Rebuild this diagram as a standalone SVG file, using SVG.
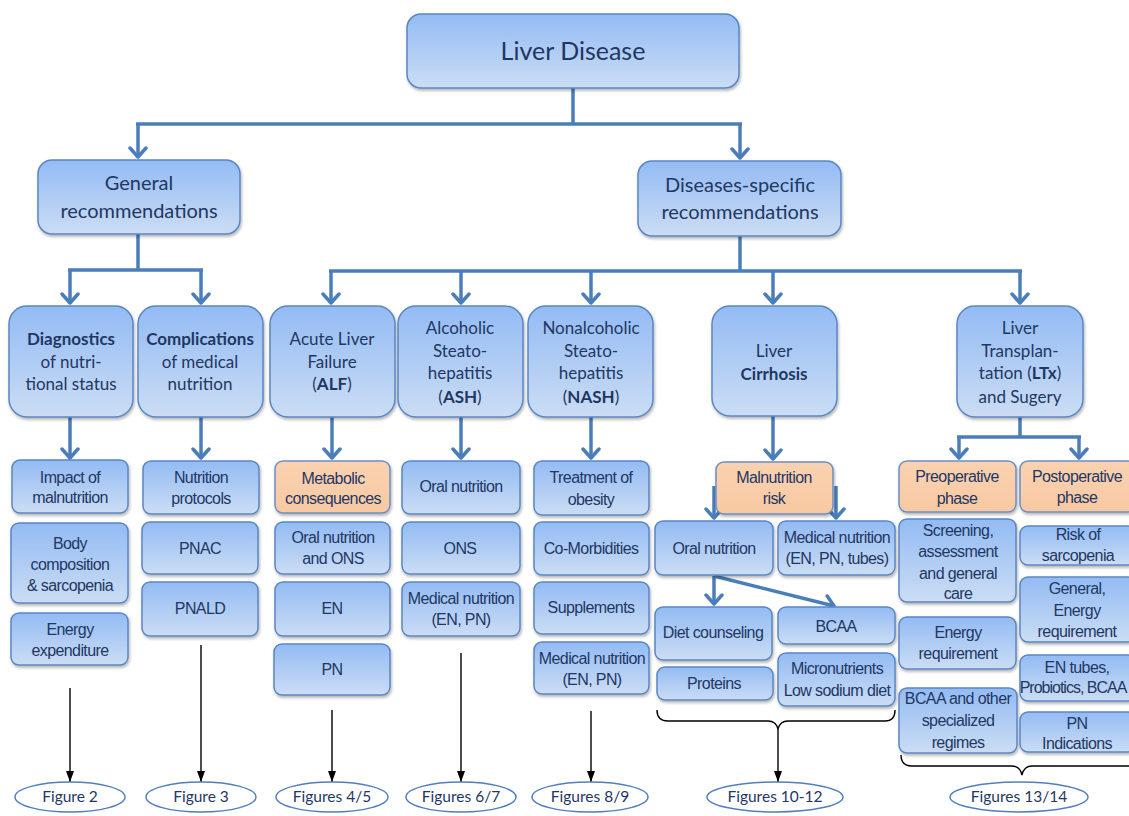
<svg xmlns="http://www.w3.org/2000/svg" width="1129" height="816" viewBox="0 0 1129 816">
<defs>
<linearGradient id="gb" x1="0" y1="0" x2="0" y2="1">
<stop offset="0" stop-color="#93bbf4"/>
<stop offset="1" stop-color="#cbddf4"/>
</linearGradient>
<linearGradient id="go" x1="0" y1="0" x2="0" y2="1">
<stop offset="0" stop-color="#fad2b1"/>
<stop offset="1" stop-color="#f8c9a2"/>
</linearGradient>
<filter id="sh" x="-10%" y="-10%" width="130%" height="140%">
<feDropShadow dx="1" dy="2" stdDeviation="1.5" flood-color="#000" flood-opacity="0.3"/>
</filter>
<marker id="bv" viewBox="-12 -10 14 20" refX="0" refY="0" markerWidth="14" markerHeight="20" markerUnits="userSpaceOnUse" orient="auto">
<path d="M-9,-8 L0,0 L-9,8" fill="none" stroke="#4a7ebb" stroke-width="3.5" stroke-linecap="round" stroke-linejoin="round"/>
</marker>
<marker id="bk" viewBox="-11 -5 12 10" refX="0" refY="0" markerWidth="12" markerHeight="10" markerUnits="userSpaceOnUse" orient="auto">
<path d="M-11,-4 L0,0 L-11,4 z" fill="#000"/>
</marker>
<style>
.b{fill:url(#gb);stroke:#5b86c3;stroke-width:1.5;filter:url(#sh)}
.o{fill:url(#go);stroke:#6b8fc4;stroke-width:1.5;filter:url(#sh)}
.t1{font-family:Lato,"Open Sans",sans-serif;fill:#1f3763;text-anchor:middle}
.t4{font-family:"Liberation Sans",Arial,sans-serif;font-size:16px;letter-spacing:-0.6px;fill:#1f3763;text-anchor:middle}
.tf{font-family:Lato,"Open Sans",sans-serif;font-size:15.5px;fill:#1f3763;text-anchor:middle}
.e{fill:#fff;stroke:#4f7fbd;stroke-width:1.5}
.c{fill:none;stroke:#4a7ebb;stroke-width:3.5}
.k{fill:none;stroke:#000;stroke-width:1.4}
</style>
</defs>

<g id="connectors">
<path class="c" d="M573,88 V124 M136,124 H742 M138,234 V270 M68,270 H203 M740,236 V271 M329,271 H1022 M1020,417 V437 M957,437 H1081"/>
<path class="c" d="M138,124 V157" marker-end="url(#bv)"/>
<path class="c" d="M740,124 V158" marker-end="url(#bv)"/>
<path class="c" d="M70,270 V303" marker-end="url(#bv)"/>
<path class="c" d="M201,270 V303" marker-end="url(#bv)"/>
<path class="c" d="M331,271 V303" marker-end="url(#bv)"/>
<path class="c" d="M461,271 V303" marker-end="url(#bv)"/>
<path class="c" d="M591,271 V303" marker-end="url(#bv)"/>
<path class="c" d="M773,271 V303" marker-end="url(#bv)"/>
<path class="c" d="M1020,271 V303" marker-end="url(#bv)"/>
<path class="c" d="M70,417 V458" marker-end="url(#bv)"/>
<path class="c" d="M201,417 V458" marker-end="url(#bv)"/>
<path class="c" d="M332,417 V458" marker-end="url(#bv)"/>
<path class="c" d="M461,417 V458" marker-end="url(#bv)"/>
<path class="c" d="M591,417 V458" marker-end="url(#bv)"/>
<path class="c" d="M773,416 V459" marker-end="url(#bv)"/>
<path class="c" d="M959,437 V458" marker-end="url(#bv)"/>
<path class="c" d="M1079,437 V458" marker-end="url(#bv)"/>
<path class="c" d="M714,486 V518" marker-end="url(#bv)"/>
<path class="c" d="M836,486 V518" marker-end="url(#bv)"/>
<path class="c" d="M714,576 V604" marker-end="url(#bv)"/>
<path class="c" d="M714,576 L834,606" marker-end="url(#bv)"/>
<path class="k" d="M70,688 V782" marker-end="url(#bk)"/>
<path class="k" d="M201,645 V782" marker-end="url(#bk)"/>
<path class="k" d="M332,710 V782" marker-end="url(#bk)"/>
<path class="k" d="M461,653 V782" marker-end="url(#bk)"/>
<path class="k" d="M591,711 V782" marker-end="url(#bk)"/>
<path class="k" d="M778,729 V782" marker-end="url(#bk)"/>
<path class="k" d="M657,710 Q657,721 668,721 H768 Q776,721 778,729 Q780,721 788,721 H885 Q895,721 895,710"/>
<path class="k" d="M901,755 Q901,766 912,766 H1012 Q1020,766 1022,775 Q1024,766 1032,766 H1131"/>
</g>

<g id="n-liver-disease"><rect class="b" x="407" y="14" width="332" height="74" rx="14"/><text class="t1" x="573" y="60" font-size="25">Liver Disease</text></g>
<g id="n-general"><rect class="b" x="38" y="160" width="202" height="74" rx="14"/><text class="t1" font-size="20"><tspan x="139" y="190">General</tspan><tspan x="139" y="218">recommendations</tspan></text></g>
<g id="n-specific"><rect class="b" x="638" y="161" width="203" height="75" rx="14"/><text class="t1" font-size="20"><tspan x="740" y="192">Diseases-specific</tspan><tspan x="740" y="219">recommendations</tspan></text></g>

<g id="n-diagnostics"><rect class="b" x="9" y="306" width="124" height="111" rx="18"/><text class="t1" font-size="17"><tspan x="71" y="345" font-weight="bold">Diagnostics</tspan><tspan x="71" y="368">of nutri-</tspan><tspan x="71" y="390">tional status</tspan></text></g>
<g id="n-complications"><rect class="b" x="138" y="306" width="125" height="111" rx="18"/><text class="t1" font-size="17"><tspan x="200" y="345" font-weight="bold">Complications</tspan><tspan x="200" y="368">of medical</tspan><tspan x="200" y="390">nutrition</tspan></text></g>
<g id="n-alf"><rect class="b" x="270" y="306" width="125" height="111" rx="18"/><text class="t1" font-size="17"><tspan x="332" y="345">Acute Liver</tspan><tspan x="332" y="368">Failure</tspan><tspan x="332" y="390">(<tspan font-weight="bold">ALF</tspan>)</tspan></text></g>
<g id="n-ash"><rect class="b" x="398" y="306" width="125" height="111" rx="18"/><text class="t1" font-size="17"><tspan x="460" y="334">Alcoholic</tspan><tspan x="460" y="357">Steato-</tspan><tspan x="460" y="379">hepatitis</tspan><tspan x="460" y="403">(<tspan font-weight="bold">ASH</tspan>)</tspan></text></g>
<g id="n-nash"><rect class="b" x="528" y="306" width="125" height="111" rx="18"/><text class="t1" font-size="17"><tspan x="591" y="334">Nonalcoholic</tspan><tspan x="591" y="357">Steato-</tspan><tspan x="591" y="379">hepatitis</tspan><tspan x="591" y="403">(<tspan font-weight="bold">NASH</tspan>)</tspan></text></g>
<g id="n-cirrhosis"><rect class="b" x="712" y="306" width="125" height="110" rx="18"/><text class="t1" font-size="17"><tspan x="774" y="357">Liver</tspan><tspan x="774" y="380" font-weight="bold">Cirrhosis</tspan></text></g>
<g id="n-ltx"><rect class="b" x="957" y="306" width="126" height="111" rx="18"/><text class="t1" font-size="17"><tspan x="1020" y="334">Liver</tspan><tspan x="1020" y="357">Transplan-</tspan><tspan x="1020" y="379">tation (<tspan font-weight="bold">LTx</tspan>)</tspan><tspan x="1020" y="403">and Sugery</tspan></text></g>

<g id="n-impact"><rect class="b" x="12" y="460" width="116" height="53" rx="8"/><text class="t4"><tspan x="70" y="483">Impact of</tspan><tspan x="70" y="503">malnutrition</tspan></text></g>
<g id="n-body"><rect class="b" x="11" y="523" width="117" height="80" rx="8"/><text class="t4"><tspan x="70" y="549">Body</tspan><tspan x="70" y="570">composition</tspan><tspan x="70" y="591">&amp; sarcopenia</tspan></text></g>
<g id="n-energy-exp"><rect class="b" x="11" y="613" width="117" height="52" rx="8"/><text class="t4"><tspan x="70" y="635">Energy</tspan><tspan x="70" y="656">expenditure</tspan></text></g>

<g id="n-protocols"><rect class="b" x="143" y="461" width="116" height="53" rx="8"/><text class="t4"><tspan x="201" y="483">Nutrition</tspan><tspan x="201" y="504">protocols</tspan></text></g>
<g id="n-pnac"><rect class="b" x="142" y="522" width="116" height="52" rx="8"/><text class="t4" x="200" y="554">PNAC</text></g>
<g id="n-pnald"><rect class="b" x="142" y="582" width="116" height="54" rx="8"/><text class="t4" x="200" y="614">PNALD</text></g>

<g id="n-metabolic"><rect class="o" x="275" y="461" width="115" height="52" rx="8"/><text class="t4"><tspan x="333" y="484">Metabolic</tspan><tspan x="333" y="504">consequences</tspan></text></g>
<g id="n-alf-oral"><rect class="b" x="275" y="522" width="115" height="52" rx="8"/><text class="t4"><tspan x="333" y="543">Oral nutrition</tspan><tspan x="333" y="564">and ONS</tspan></text></g>
<g id="n-alf-en"><rect class="b" x="275" y="582" width="115" height="54" rx="8"/><text class="t4" x="332" y="614">EN</text></g>
<g id="n-alf-pn"><rect class="b" x="274" y="644" width="116" height="51" rx="8"/><text class="t4" x="332" y="675">PN</text></g>

<g id="n-ash-oral"><rect class="b" x="402" y="461" width="118" height="53" rx="8"/><text class="t4" x="461" y="492">Oral nutrition</text></g>
<g id="n-ash-ons"><rect class="b" x="402" y="522" width="118" height="52" rx="8"/><text class="t4" x="460" y="554">ONS</text></g>
<g id="n-ash-med"><rect class="b" x="402" y="582" width="118" height="54" rx="8"/><text class="t4"><tspan x="461" y="604">Medical nutrition</tspan><tspan x="461" y="625">(EN, PN)</tspan></text></g>

<g id="n-obesity"><rect class="b" x="534" y="461" width="115" height="54" rx="8"/><text class="t4"><tspan x="591" y="483">Treatment of</tspan><tspan x="591" y="505">obesity</tspan></text></g>
<g id="n-comorb"><rect class="b" x="534" y="522" width="115" height="53" rx="8"/><text class="t4" x="591" y="554">Co-Morbidities</text></g>
<g id="n-suppl"><rect class="b" x="534" y="582" width="115" height="52" rx="8"/><text class="t4" x="591" y="613">Supplements</text></g>
<g id="n-nash-med"><rect class="b" x="534" y="642" width="115" height="52" rx="8"/><text class="t4"><tspan x="592" y="664">Medical nutrition</tspan><tspan x="592" y="685">(EN, PN)</tspan></text></g>

<g id="n-malnutrition-risk"><rect class="o" x="716" y="462" width="117" height="52" rx="8"/><text class="t4"><tspan x="774" y="483">Malnutrition</tspan><tspan x="774" y="504">risk</tspan></text></g>
<g id="n-cir-oral"><rect class="b" x="655" y="521" width="118" height="54" rx="8"/><text class="t4" x="714" y="554">Oral nutrition</text></g>
<g id="n-cir-med"><rect class="b" x="778" y="521" width="117" height="54" rx="8"/><text class="t4"><tspan x="837" y="543">Medical nutrition</tspan><tspan x="837" y="564">(EN, PN, tubes)</tspan></text></g>
<g id="n-diet"><rect class="b" x="655" y="607" width="117" height="53" rx="8"/><text class="t4" x="713" y="638">Diet counseling</text></g>
<g id="n-bcaa"><rect class="b" x="778" y="607" width="117" height="37" rx="8"/><text class="t4" x="836" y="632">BCAA</text></g>
<g id="n-proteins"><rect class="b" x="657" y="667" width="116" height="33" rx="8"/><text class="t4" x="714" y="689">Proteins</text></g>
<g id="n-micro"><rect class="b" x="778" y="653" width="117" height="53" rx="8"/><text class="t4"><tspan x="837" y="674">Micronutrients</tspan><tspan x="837" y="696">Low sodium diet</tspan></text></g>

<g id="n-preop"><rect class="o" x="899" y="461" width="117" height="51" rx="8"/><text class="t4"><tspan x="957" y="482">Preoperative</tspan><tspan x="957" y="504">phase</tspan></text></g>
<g id="n-postop"><rect class="o" x="1020" y="461" width="116" height="51" rx="8"/><text class="t4"><tspan x="1077" y="482">Postoperative</tspan><tspan x="1077" y="503">phase</tspan></text></g>
<g id="n-screening"><rect class="b" x="899" y="519" width="117" height="83" rx="8"/><text class="t4"><tspan x="958" y="536">Screening,</tspan><tspan x="958" y="557">assessment</tspan><tspan x="958" y="579">and general</tspan><tspan x="958" y="599">care</tspan></text></g>
<g id="n-energy-req"><rect class="b" x="899" y="617" width="117" height="52" rx="8"/><text class="t4"><tspan x="958" y="638">Energy</tspan><tspan x="958" y="659">requirement</tspan></text></g>
<g id="n-bcaa-other"><rect class="b" x="899" y="688" width="118" height="65" rx="8"/><text class="t4"><tspan x="958" y="704">BCAA  and other</tspan><tspan x="958" y="726">specialized</tspan><tspan x="958" y="748">regimes</tspan></text></g>
<g id="n-sarcopenia"><rect class="b" x="1020" y="526" width="116" height="39" rx="8"/><text class="t4"><tspan x="1078" y="540">Risk of</tspan><tspan x="1078" y="561">sarcopenia</tspan></text></g>
<g id="n-gen-energy"><rect class="b" x="1020" y="577" width="116" height="65" rx="8"/><text class="t4"><tspan x="1077" y="594">General,</tspan><tspan x="1077" y="616">Energy</tspan><tspan x="1077" y="637">requirement</tspan></text></g>
<g id="n-en-tubes"><rect class="b" x="1020" y="655" width="116" height="46" rx="8"/><text class="t4"><tspan x="1077" y="673">EN tubes,</tspan><tspan x="1073" y="693" letter-spacing="-1">Probiotics, BCAA</tspan></text></g>
<g id="n-pn-ind"><rect class="b" x="1020" y="712" width="116" height="40" rx="8"/><text class="t4"><tspan x="1077" y="729">PN</tspan><tspan x="1077" y="749">Indications</tspan></text></g>

<g id="f-2"><ellipse class="e" cx="70" cy="797" rx="55" ry="15"/><text class="tf" x="70" y="802">Figure 2</text></g>
<g id="f-3"><ellipse class="e" cx="201" cy="797" rx="55" ry="15"/><text class="tf" x="201" y="802">Figure 3</text></g>
<g id="f-45"><ellipse class="e" cx="332" cy="797" rx="56" ry="15"/><text class="tf" x="332" y="802">Figures 4/5</text></g>
<g id="f-67"><ellipse class="e" cx="461" cy="797" rx="55" ry="15"/><text class="tf" x="461" y="802">Figures 6/7</text></g>
<g id="f-89"><ellipse class="e" cx="590" cy="797" rx="58" ry="15"/><text class="tf" x="590" y="802">Figures 8/9</text></g>
<g id="f-1012"><ellipse class="e" cx="775" cy="797" rx="68" ry="15"/><text class="tf" x="775" y="802">Figures 10-12</text></g>
<g id="f-1314"><ellipse class="e" cx="1019" cy="797" rx="69" ry="15"/><text class="tf" x="1019" y="802">Figures 13/14</text></g>
</svg>
